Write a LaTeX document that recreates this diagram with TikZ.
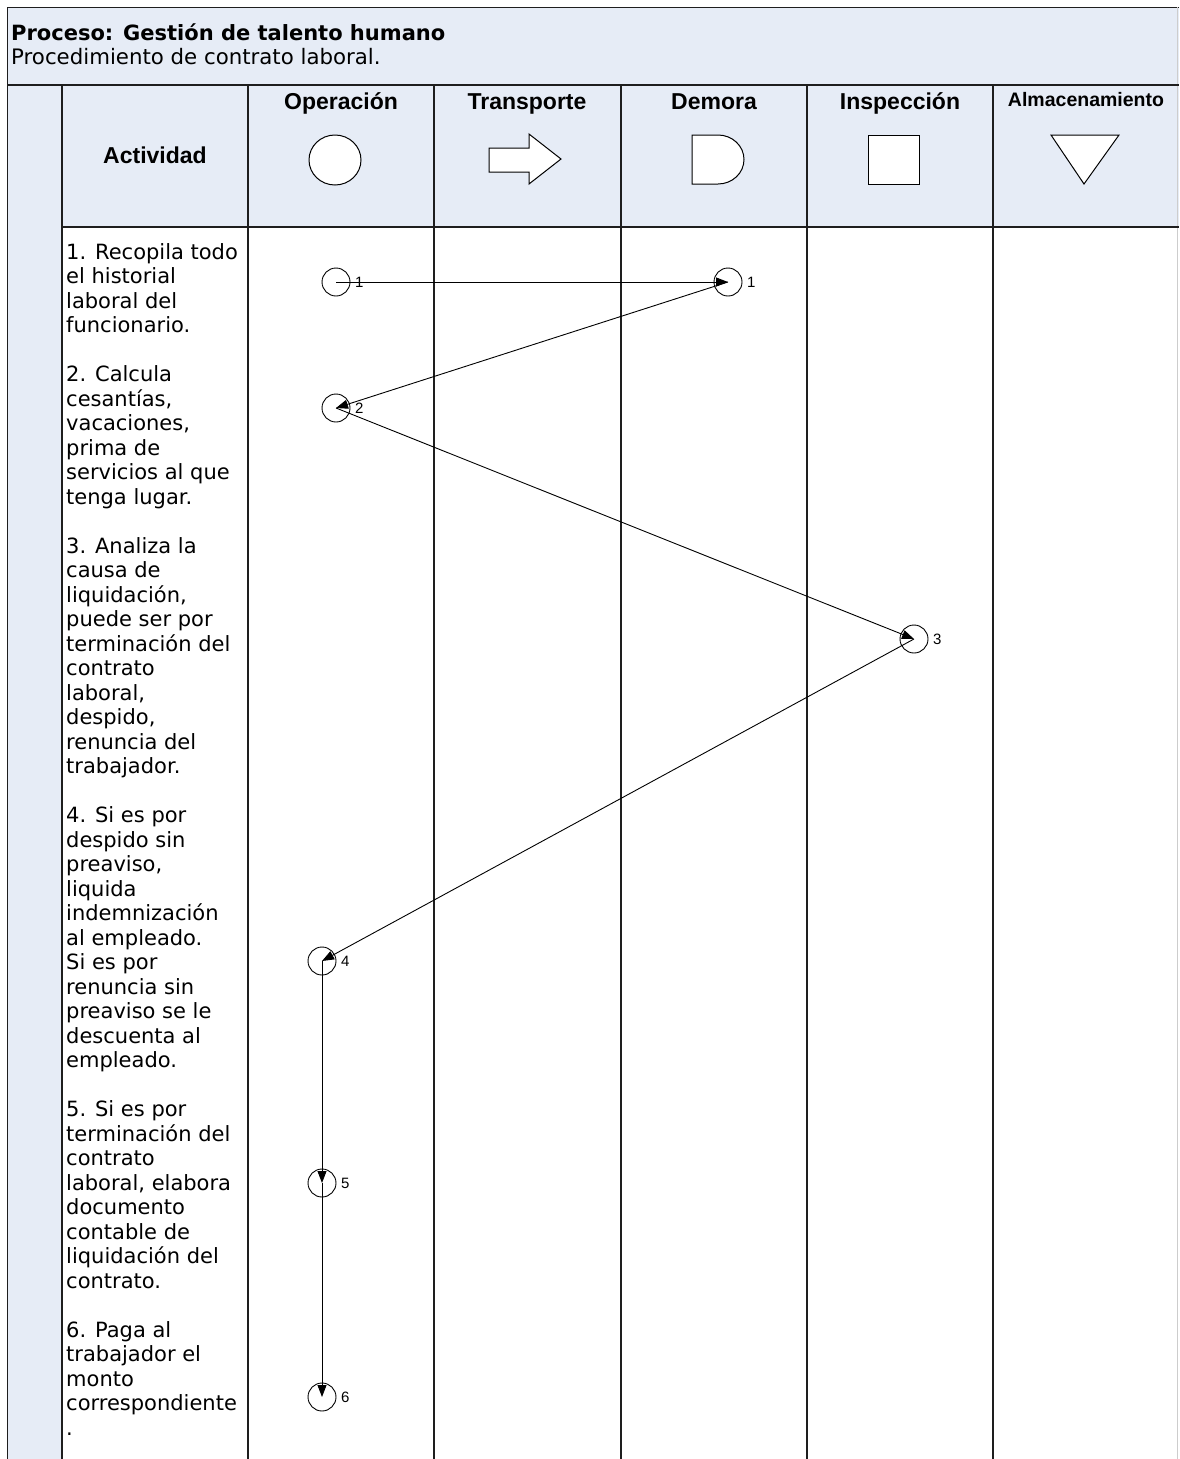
\documentclass[tikz,border=0pt]{standalone}
\usepackage{fontspec}
\setmainfont{DejaVu Sans}
\newfontfamily\hdrfont{Liberation Sans}
\usetikzlibrary{arrows.meta}
\definecolor{paleblue}{RGB}{230,236,246}
\definecolor{rule}{RGB}{30,30,30}
\definecolor{edgegray}{RGB}{205,205,205}
\tikzset{
  grid/.style={draw=rule, line width=1.5pt},
  symbol/.style={draw=black, fill=white, line width=1pt},
  colhead/.style={font=\hdrfont\bfseries\fontsize{23}{27}\selectfont, anchor=base, inner sep=0},
  activity/.style={anchor=base west, inner sep=0},
  stepdot/.style={circle, draw=black, line width=0.9pt, minimum size=28pt, inner sep=0},
  steplabel/.style={font=\hdrfont\fontsize{15}{17}\selectfont, anchor=west, inner sep=0},
  flow/.style={draw=black, line width=0.9pt, -{Triangle[length=12pt,width=9pt]}}
}
\newcommand{\acttext}[1]{\parbox[t]{180pt}{\raggedright\fontsize{21}{24.5}\selectfont #1}}
\begin{document}
\begin{tikzpicture}[x=1pt, y=-1pt]
\useasboundingbox (0,0) rectangle (1179,1459);

% title band
\fill[paleblue] (7,7) rectangle (1179,85);
\draw[rule, line width=1pt] (1179,7) -- (7,7) -- (7,85);
\node[anchor=base west, inner sep=0, font=\bfseries\fontsize{21}{24.5}\selectfont] (title) at (11,40) {Proceso: Gestión de talento humano};
\node[anchor=base west, inner sep=0, font=\fontsize{21.3}{24.5}\selectfont] (subtitle) at (11,64) {Procedimiento de contrato laboral.};

% header row and left strip
\fill[paleblue] (62,85) rectangle (1179,227);
\fill[paleblue] (7,85) rectangle (62,1459);
\draw[edgegray, line width=1.2pt] (1177.5,7) -- (1177.5,1459);
\draw[grid] (7,85) -- (1179,85);
\draw[grid] (62,227) -- (1179,227);
\draw[rule, line width=1pt] (7,85) -- (7,1459);
\foreach \xx in {62,248,434,621,807,993}
  \draw[grid] (\xx,85) -- (\xx,1459);

% column headings
\node[colhead] (hact) at (155,163) {Actividad};
\node[colhead] (hop) at (341,109) {Operación};
\node[colhead] (htr) at (527,109) {Transporte};
\node[colhead] (hde) at (714,109) {Demora};
\node[colhead] (hin) at (900,109) {Inspección};
\node[colhead, font=\hdrfont\bfseries\fontsize{19.5}{23}\selectfont] (hal) at (1086,106) {Almacenamiento};

% heading symbols
\draw[symbol] (335,160) ellipse [x radius=26pt, y radius=25pt];
\draw[symbol] (489,148) -- (529,148) -- (529,134) -- (561,159) -- (529,184) -- (529,172) -- (489,172) -- cycle;
\draw[symbol] (692,135) -- (718,135) arc[start angle=90, end angle=-90, x radius=26pt, y radius=24.5pt] -- (692,184) -- cycle;
\draw[symbol] (868,135) rectangle (919,184);
\draw[symbol] (1051,135) -- (1119,135) -- (1084,184) -- cycle;

% activities
\node[activity] (a1) at (66,259) {\acttext{1. Recopila todo\\el historial\\laboral del\\funcionario.}};
\node[activity] (a2) at (66,381.5) {\acttext{2. Calcula\\cesantías,\\vacaciones,\\prima de\\servicios al que\\tenga lugar.}};
\node[activity] (a3) at (66,553) {\acttext{3. Analiza la\\causa de\\liquidación,\\puede ser por\\terminación del\\contrato\\laboral,\\despido,\\renuncia del\\trabajador.}};
\node[activity] (a4) at (66,822.5) {\acttext{4. Si es por\\despido sin\\preaviso,\\liquida\\indemnización\\al empleado.\\Si es por\\renuncia sin\\preaviso se le\\descuenta al\\empleado.}};
\node[activity] (a5) at (66,1116.5) {\acttext{5. Si es por\\terminación del\\contrato\\laboral, elabora\\documento\\contable de\\liquidación del\\contrato.}};
\node[activity] (a6) at (66,1337) {\acttext{6. Paga al\\trabajador el\\monto\\correspondiente\\.}};

% steps
\node[stepdot] (s1) at (336,282) {};
\node[stepdot] (s1b) at (728,282) {};
\node[stepdot] (s2) at (336,408) {};
\node[stepdot] (s3) at (914,639) {};
\node[stepdot] (s4) at (322,961) {};
\node[stepdot] (s5) at (322,1183) {};
\node[stepdot] (s6) at (322,1397) {};
\node[steplabel] (l1) at (355,282) {1};
\node[steplabel] (l1b) at (747,282) {1};
\node[steplabel] (l2) at (355,408) {2};
\node[steplabel] (l3) at (933,639) {3};
\node[steplabel] (l4) at (341,961) {4};
\node[steplabel] (l5) at (341,1183) {5};
\node[steplabel] (l6) at (341,1397) {6};

% connectors
\draw[flow] (s1.center) -- (s1b.center);
\draw[flow] (s1b.center) -- (s2.center);
\draw[flow] (s2.center) -- (s3.center);
\draw[flow] (s3.center) -- (s4.center);
\draw[flow] (s4.center) -- (s5.center);
\draw[flow] (s5.center) -- (s6.center);
\end{tikzpicture}
\end{document}
